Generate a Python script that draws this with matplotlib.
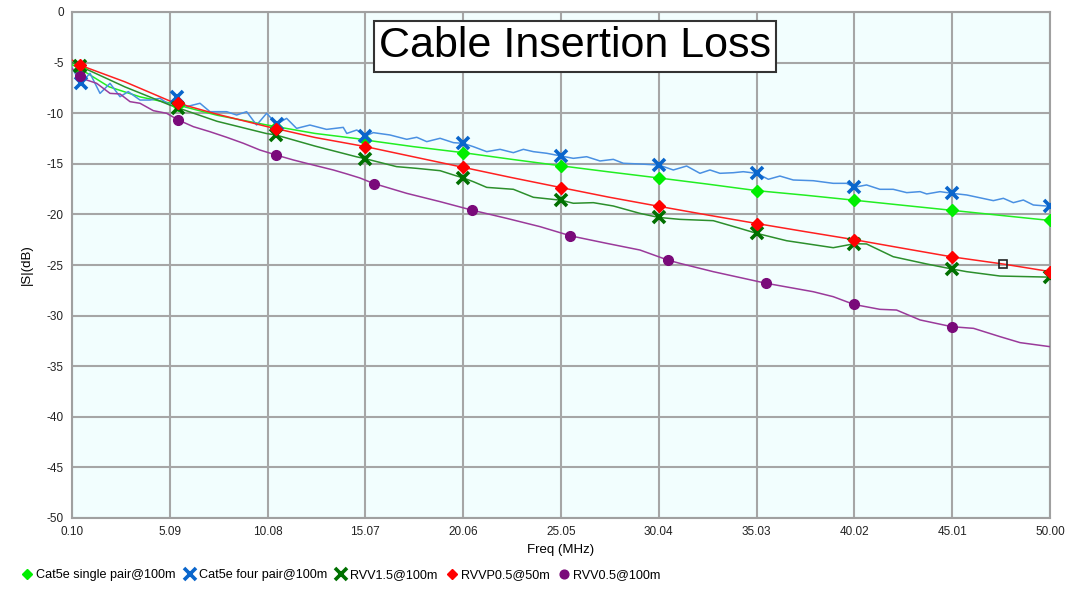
import numpy as np
import matplotlib
matplotlib.use('Agg')
import matplotlib.pyplot as plt
from matplotlib.lines import Line2D

plt.rcParams['font.family'] = ['Liberation Sans', 'DejaVu Sans']
plt.rcParams['axes.unicode_minus'] = False

# x tick positions (MHz)
xticks = [0.10, 5.09, 10.08, 15.07, 20.06, 25.05, 30.04, 35.03, 40.02, 45.01, 50.00]
yticks = [0, -5, -10, -15, -20, -25, -30, -35, -40, -45, -50]

# Cat5e single pair@100m
f_single = [0.1, 0.5, 2.0, 3.6, 5.1, 7.5, 10.0, 12.5, 14.6, 15.07, 17.5, 20.06, 22.5, 25.05,
            27.5, 30.04, 32.5, 35.03, 37.5, 40.02, 42.5, 45.01, 47.5, 50.0]
s_single = [-5.2, -5.6, -7.4, -8.4, -9.0, -10.2, -11.15, -12.0, -12.5, -12.65, -13.3, -13.9, -14.55, -15.2,
            -15.8, -16.4, -17.0, -17.65, -18.1, -18.6, -19.1, -19.6, -20.1, -20.6]
m_single = [0.5, 5.5, 10.5, 15.07, 20.06, 25.05, 30.04, 35.03, 40.02, 45.01, 50.0]

# Cat5e four pair@100m
f_four = [0.1, 0.54, 1.02, 1.53, 2.04, 2.55, 2.97, 3.57, 4.08, 4.59, 5.10, 5.44, 5.95, 6.63, 7.14,
          7.99, 8.50, 9.01, 9.52, 10.03, 10.54, 11.05, 11.56, 12.24, 13.09, 13.94, 14.12, 14.63,
          15.07, 15.47, 16.32, 17.18, 17.69, 18.2, 18.88, 19.56, 20.06, 20.58, 21.26, 21.94, 22.62,
          23.13, 23.64, 24.32, 25.05, 25.68, 26.36, 27.04, 27.72, 28.23, 29.08, 30.04, 30.78, 31.46,
          32.14, 32.65, 33.16, 33.84, 34.35, 35.03, 35.63, 36.22, 36.90, 37.92, 38.94, 39.62, 40.02,
          40.64, 41.32, 42.0, 42.69, 43.37, 43.71, 44.39, 45.01, 45.75, 47.11, 47.62, 48.13, 48.64,
          49.15, 50.0]
s_four = [-5.5, -7.05, -6.06, -8.04, -7.05, -8.37, -7.87, -8.70, -8.70, -8.53, -9.19, -8.37, -9.35, -9.02, -9.85,
          -9.85, -10.18, -9.85, -11.17, -10.01, -11.07, -10.51, -11.5, -11.17, -11.6, -11.4, -12.0, -11.66,
          -12.25, -11.92, -12.15, -12.58, -12.38, -12.81, -12.48, -12.91, -12.98, -13.31, -13.80, -13.57, -13.9,
          -13.57, -13.8, -13.96, -14.23, -14.46, -14.3, -14.72, -14.56, -14.95, -15.02, -15.12, -15.61, -15.22,
          -15.94, -15.61, -15.94, -15.88, -15.78, -15.94, -16.53, -16.21, -16.6, -16.67, -16.93, -16.93, -17.32,
          -17.09, -17.52, -17.52, -17.85, -17.75, -17.98, -17.75, -17.92, -18.08, -18.64, -18.41, -18.84, -18.58,
          -19.07, -19.2]
m_four = [0.54, 5.44, 10.54, 15.07, 20.06, 25.05, 30.04, 35.03, 40.02, 45.01, 50.0]

# RVV1.5@100m
f_rvv15 = [0.1, 0.5, 2.8, 5.1, 7.5, 10.0, 10.5, 12.5, 14.6, 15.07, 16.66, 17.69, 18.88, 19.56, 20.06,
           20.58, 21.26, 22.62, 23.64, 25.05, 25.68, 26.7, 27.72, 29.08, 30.04, 31.12, 32.82, 34.18,
           35.03, 36.56, 38.94, 40.02, 40.64, 42.0, 43.71, 45.01, 45.75, 47.45, 50.0]
s_rvv15 = [-5.0, -5.35, -7.4, -9.2, -10.8, -12.0, -12.15, -13.25, -14.3, -14.5, -15.28, -15.45, -15.68, -16.1, -16.4,
           -16.77, -17.33, -17.52, -18.31, -18.6, -18.9, -18.84, -19.17, -19.9, -20.3, -20.49, -20.62, -21.38,
           -21.87, -22.6, -23.29, -22.9, -22.92, -24.18, -24.9, -25.4, -25.66, -26.09, -26.2]
m_rvv15 = [0.5, 5.5, 10.5, 15.07, 20.06, 25.05, 30.04, 35.03, 40.02, 45.01, 50.0]

# RVVP0.5@50m
f_rvvp = [0.1, 0.5, 2.8, 5.1, 7.5, 10.0, 12.5, 15.07, 17.5, 20.06, 22.5, 25.05, 27.5, 30.04, 32.5,
          35.03, 37.5, 40.02, 42.5, 45.01, 47.6, 50.0]
s_rvvp = [-4.75, -5.25, -6.9, -8.8, -10.1, -11.3, -12.4, -13.3, -14.3, -15.35, -16.35, -17.35, -18.3, -19.2, -20.05,
          -20.9, -21.7, -22.5, -23.35, -24.2, -24.9, -25.65]
m_rvvp = [0.5, 5.5, 10.5, 15.07, 20.06, 25.05, 30.04, 35.03, 40.02, 45.01, 50.0]

# RVV0.5@100m
f_rvv05 = [0.1, 0.5, 0.85, 1.36, 2.04, 2.55, 3.06, 3.57, 4.25, 4.93, 5.52, 6.29, 7.14, 7.99, 8.84, 9.69,
           10.51, 11.39, 12.41, 13.43, 14.12, 14.79, 15.47, 17.18, 18.88, 20.49, 22.28, 23.98, 25.56,
           27.38, 29.08, 30.5, 31.12, 32.82, 35.5, 37.92, 38.94, 40.0, 41.32, 42.17, 43.37, 45.0, 46.1,
           47.45, 48.47, 50.0]
s_rvv05 = [-5.6, -6.3, -6.72, -7.05, -8.04, -8.1, -8.86, -9.02, -9.75, -10.01, -10.67, -11.33, -11.83, -12.38, -12.97, -13.64,
           -14.13, -14.62, -15.12, -15.61, -16.0, -16.4, -16.93, -17.92, -18.74, -19.57, -20.39, -21.21, -22.13,
           -22.86, -23.52, -24.51, -24.84, -25.66, -26.8, -27.64, -28.13, -28.9, -29.38, -29.45, -30.43, -31.1, -31.26,
           -32.08, -32.67, -33.07]
m_rvv05 = [0.5, 5.5, 10.5, 15.5, 20.5, 25.5, 30.5, 35.5, 40.0, 45.0]

# cursor square on the red trace
cursor_f = 47.6
cursor_s = -24.9

fig = plt.figure(figsize=(10.76, 5.90), dpi=100)
ax = fig.add_axes([72 / 1076, 1 - 518 / 590, 978 / 1076, 506 / 590])
ax.set_facecolor('#f2fefe')

series = [
    ('Cat5e single pair@100m', f_single, s_single, m_single, '#22ee22', '#00ee00', 'D', 6, 1),
    ('Cat5e four pair@100m', f_four, s_four, m_four, '#4a90e2', '#0a66cc', 'x', 9, 2.6),
    ('RVV1.5@100m', f_rvv15, s_rvv15, m_rvv15, '#2c8f2c', '#007000', 'x', 9, 2.6),
    ('RVVP0.5@50m', f_rvvp, s_rvvp, m_rvvp, '#ff2020', '#ff0000', 'D', 6, 1),
    ('RVV0.5@100m', f_rvv05, s_rvv05, m_rvv05, '#9a3a9a', '#7a0a7a', 'o', 7, 1),
]

handles = []
for name, f, s, mf, lc, mc, mk, ms, mew in series:
    ax.plot(f, s, color=lc, lw=1.1, zorder=3)
    my = np.interp(mf, f, s)
    ax.plot(mf, my, ls='none', marker=mk, ms=ms, mfc=mc, mec=mc, mew=mew, zorder=4)
    handles.append(Line2D([], [], ls='none', marker=mk, ms=ms * 0.9, mfc=mc, mec=mc, mew=mew, label=name))

ax.plot([cursor_f], [cursor_s], ls='none', marker='s', ms=6, mfc='none', mec='#222222', mew=1.2, zorder=5)

ax.set_xlim(0.1, 50)
ax.set_ylim(-50, 0)
ax.set_xticks(xticks)
ax.set_xticklabels(['%.2f' % t for t in xticks])
ax.set_yticks(yticks)
ax.grid(True, color='#a6a6a6', lw=1.5, zorder=0)
ax.set_axisbelow(True)
ax.tick_params(length=0, labelsize=8.5, colors='#222222', pad=6)
for sp in ax.spines.values():
    sp.set_color('#a0a0a0')
    sp.set_linewidth(1.5)

ax.set_xlabel('Freq (MHz)', fontsize=9.5, labelpad=4)
ax.set_ylabel('|S|(dB)', fontsize=9.5, labelpad=10)

ax.text(0.514, 0.932, 'Cable Insertion Loss', transform=ax.transAxes, ha='center', va='center',
        fontsize=31, color='black', zorder=6,
        bbox=dict(boxstyle='square,pad=0.12', fc='white', ec='#333333', lw=1.5))

fig.legend(handles=handles, loc='lower left', bbox_to_anchor=(0.012, 0.0), ncol=5, frameon=False,
           fontsize=9.1, handlelength=0.8, handletextpad=0.3, columnspacing=0.75, borderaxespad=0.3)

fig.savefig('out.png', dpi=100)
